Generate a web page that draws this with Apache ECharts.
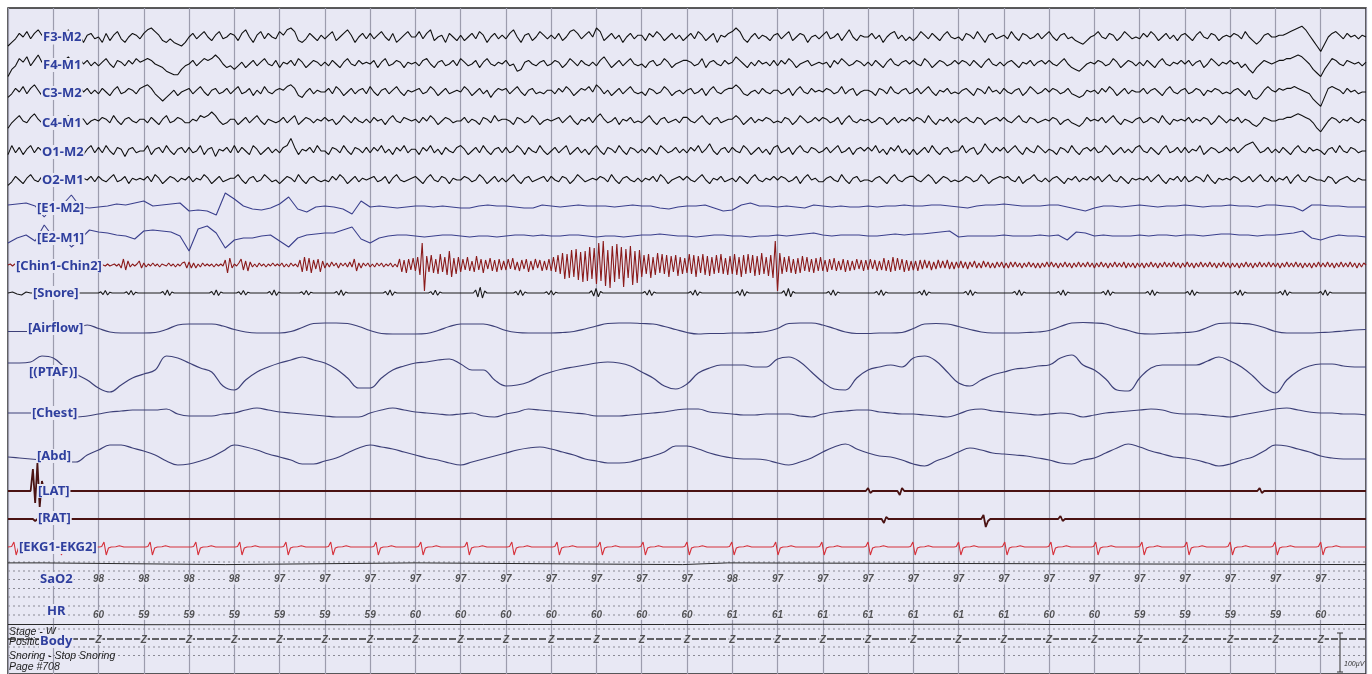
<!DOCTYPE html>
<html><head><meta charset="utf-8">
<script src="https://cdn.jsdelivr.net/npm/echarts@6/dist/echarts.min.js"></script>
<style>html,body{margin:0;padding:0;background:#fff}#c{width:1372px;height:674px}</style>
</head><body><div id="c"></div>
<script>
// ---------------- DATA ----------------
const EPOCH_SECONDS = 30;
const EEG_RATE = 12;      // samples per second
const EOG_RATE = 5;
const EMG_RATE = 20;
const RESP_RATE = 4;

const F3M2 = [
-5,-3,-1,2,0,3,-1,2,4,1,-2,3, 1,-2,2,0,4,-1,2,1,-3,1,2,-1, 0,-3,2,-2,1,3,-1,-3,0,2,1,-1, 2,4,5,3,1,-2,-3,-1,-3,-4,-5,-3,
0,2,-1,1,3,0,-2,1,3,-1,0,2, 1,-2,2,4,0,-3,1,3,-1,2,0,-1, 3,1,4,5,3,-2,-3,-1,2,0,-2,1, -1,1,3,-2,0,2,4,1,-3,0,2,-1,
2,-1,1,3,0,-2,2,-3,-1,1,3,0, 0,3,-1,2,4,-2,0,1,-3,2,0,-2, 1,-2,0,2,-1,3,1,-3,0,2,-1,1, -1,2,4,0,-3,1,2,-2,0,3,1,-1,
1,-1,2,-2,0,3,4,2,-1,1,3,0, 5,3,-2,0,2,-1,1,-3,0,2,-1,1, 1,-2,2,0,3,1,-2,0,2,-1,1,-2, 0,2,-1,3,1,-2,0,2,-3,1,0,2,
3,5,3,-1,-3,0,2,-1,1,0,-2,1, 2,-1,1,3,-2,0,2,1,-3,0,1,-1, 1,3,-1,0,2,-2,1,4,0,-2,1,0, 0,2,-1,1,-3,0,2,3,-1,1,-2,0,
-2,0,3,1,-1,2,0,-2,1,3,0,-1, 0,-2,2,1,-1,3,0,-3,1,2,-1,0, 1,-1,3,0,-2,2,1,-1,0,2,-1,1, 3,0,-2,1,2,-1,0,-2,-3,-4,-2,0,
1,3,0,-1,2,1,-2,0,3,1,-1,0, -1,2,0,3,1,-2,0,2,-1,1,-2,1, 2,0,-2,1,3,0,-1,2,1,-2,0,1, 0,2,1,-1,3,0,-2,-4,-2,1,2,0,
0,1,1,2,3,4,5,6,4,1,-2,-5, -8,-4,0,2,3,1,-1,2,0,1,-1,1, 0];
const F4M1 = [
-7,-3,-1,3,1,4,-1,2,5,1,-1,2, 3,0,-2,2,4,1,-1,3,0,2,-1,1, -1,1,3,0,-2,2,1,-1,2,0,3,1, 2,3,2,0,-1,-2,-4,-5,-6,-6,-3,-1,
0,2,-1,1,3,2,3,5,3,0,-2,-1, -3,-1,1,-2,0,2,-1,1,3,0,-1,2, -2,1,0,2,-1,3,1,-2,0,2,1,-1, 1,-1,2,0,-2,1,3,0,-1,2,0,1,
0,2,-2,1,3,-1,0,2,1,-2,1,0, 1,-1,2,3,0,-2,1,2,-1,0,2,-1, 3,1,-1,0,2,-2,1,3,0,-1,1,0, 2,-1,0,-4,-3,1,2,0,-1,1,2,-1,
0,2,1,-2,0,3,1,-1,2,0,-1,1, -1,2,4,1,-2,0,2,-1,1,3,0,-1, 0,-2,1,2,-1,0,3,1,-2,0,1,2, 2,1,-1,0,3,-2,1,2,0,-1,2,0,
1,4,2,0,-2,1,-1,2,0,1,-1,2, -1,2,0,3,1,-2,0,1,2,-1,0,1, 0,1,-2,2,0,3,1,-1,0,2,1,-1, 1,-1,2,0,-2,1,3,0,-1,1,2,0,
2,0,-1,3,1,-2,0,2,1,-1,0,2, 0,2,1,-1,2,0,-2,1,3,0,-1,1, -1,1,2,0,-2,1,0,2,-1,1,2,0, 2,0,-1,1,3,0,-2,-3,-4,-2,0,1,
0,2,1,-1,0,3,1,-2,0,2,1,-1, 1,-1,2,0,-2,1,3,0,-1,1,0,2, 0,2,-1,1,2,-2,0,3,1,-1,1,0, 2,0,1,-2,0,-3,-5,-2,0,2,1,0,
1,2,2,3,3,4,5,4,2,0,-3,-5, -7,-3,0,3,2,0,-1,2,1,0,1,-1, 1];
const C3M2 = [
-3,-1,2,0,3,-1,2,4,1,-2,1,0, 1,3,-1,2,0,-2,1,3,0,2,-1,1, -1,2,0,-2,1,3,-1,0,2,1,-1,2, 3,4,2,-1,-3,-5,-3,-1,1,-2,0,1,
2,-1,1,3,0,-2,1,2,-1,0,2,-1, 1,3,-1,0,2,-2,1,-1,3,0,-1,1, 2,1,3,4,2,-2,-3,0,2,-1,1,0, 0,2,-1,3,1,-2,0,2,-1,1,2,-1,
3,0,-2,1,2,-1,1,3,0,-2,1,0, 1,2,-1,0,3,1,-2,0,2,-1,0,1, 0,3,1,-2,0,2,-1,1,-3,0,2,1, 2,-1,1,3,0,-2,1,2,-1,0,-1,1,
1,-1,2,0,3,1,-2,0,2,1,3,0, 4,2,-1,1,-2,0,2,-1,1,3,0,-1, 0,-2,2,1,-1,0,3,1,-2,0,1,-1, 1,2,-1,0,2,-2,1,3,0,-1,1,2,
2,4,2,-1,-2,0,1,-1,2,0,-1,1, 1,-1,0,2,-2,1,3,0,-1,2,0,1, 0,2,1,-1,0,3,-1,1,2,-2,0,1, 1,0,-2,2,1,-1,3,0,-1,1,2,-1,
0,2,-1,1,3,0,-2,1,0,2,-1,0, -1,1,2,0,-2,2,1,-1,3,0,1,-1, 2,0,-1,1,2,-2,0,3,1,-1,0,2, 0,2,1,-1,0,2,-1,-2,-3,-2,1,0,
1,-1,2,0,3,1,-2,0,2,-1,1,0, 0,2,-1,1,2,0,-2,1,3,0,-1,1, 2,-1,0,2,1,-2,1,0,2,1,-1,0, -1,1,2,0,-2,1,-3,-4,-2,1,3,1,
0,2,1,2,2,3,2,1,0,-1,-4,-6, -8,-3,2,3,2,1,-1,2,0,1,-1,0, 0];
const C4M1 = [
-4,-1,1,3,0,-1,2,4,1,-1,1,0, 2,0,-2,1,3,-1,0,2,1,-2,0,1, 0,2,1,-1,3,0,-2,1,2,0,-1,1, 1,-1,2,0,-2,1,3,-1,0,2,1,-1,
-1,1,0,3,2,3,5,3,0,-2,-1,1, 1,-2,0,2,-1,1,3,0,-2,1,0,-1, 0,2,-1,1,3,-2,0,2,1,-1,1,0, 2,0,1,-2,0,3,1,-1,2,0,-1,1,
-1,2,0,1,-2,1,3,0,-1,2,1,0, 1,-1,2,0,3,1,-2,0,2,1,-1,0, 0,2,-1,1,0,-2,2,1,-1,3,0,1, 1,0,-2,2,1,-1,0,3,1,-2,0,1,
0,1,2,-1,1,3,0,-2,1,0,2,-1, 2,4,1,-1,0,2,-2,1,0,2,-1,0, -1,1,3,0,-2,1,2,-1,0,1,-1,2, 2,0,-1,1,3,0,-2,1,2,-1,0,1,
1,3,1,-2,0,2,-1,1,0,2,1,-1, 0,-1,2,1,-2,0,3,1,-1,0,2,0, 2,1,-1,0,2,-2,1,3,0,-1,1,0, 1,-1,0,2,1,-2,0,2,-1,1,0,2,
0,2,1,-1,3,0,-2,1,0,2,-1,1, -1,1,2,0,-1,2,1,-2,0,1,2,0, 2,0,-1,1,3,0,-1,2,1,-1,0,1, 0,2,1,-2,0,1,-1,-2,-3,-1,2,0,
1,0,2,-1,1,3,0,-2,1,0,-1,1, 2,-1,0,2,1,-1,3,0,-2,1,0,1, 0,2,-1,1,0,2,1,-2,0,3,1,-1, 1,0,2,-1,1,0,-2,-3,-1,2,1,0,
0,1,1,2,2,3,4,3,2,1,-1,-4, -6,-3,0,2,1,-1,1,0,2,0,-1,1, 0];
const O1M2 = [
-2,3,-1,2,-2,1,3,-1,2,0,-2,1, -3,1,2,-2,3,0,-1,2,-2,1,3,-1, 2,-1,3,0,-2,2,1,-3,1,2,-1,0, 0,3,-2,1,2,-1,3,0,-2,1,2,-1,
2,-1,0,3,-2,1,2,-3,1,0,2,-1, 3,-1,2,0,-2,3,1,-2,0,2,-1,1, -1,2,3,7,2,-2,1,0,2,-1,3,0, 0,-2,2,1,-1,3,0,-2,2,1,-1,2,
-1,2,0,3,-1,1,-2,2,0,3,-1,1, 1,-2,2,0,3,-1,1,-2,2,0,-1,2, 3,1,-2,0,2,-1,3,0,-2,1,2,-1, 2,-1,0,3,1,-2,2,0,-1,3,0,-2,
0,2,-1,1,3,-2,0,2,-1,1,-2,1, 3,0,-2,2,1,-1,3,0,-2,2,1,-1, 1,-1,2,0,-2,3,1,-1,0,2,-1,1, -1,2,0,3,-1,1,4,0,-2,1,2,-1,
2,0,-1,3,1,-2,0,2,-1,1,-2,2, 3,-1,0,2,-2,1,3,0,-1,2,1,-1, 0,2,-1,1,3,-1,0,2,-2,1,2,0, 2,0,3,-1,1,-2,2,0,3,-1,1,-2,
1,-2,0,2,-1,3,0,-2,1,2,-1,0, 0,3,-1,1,2,-2,0,4,1,-1,2,0, 2,-1,1,3,0,-2,2,0,-1,3,1,-1, 1,0,-2,2,1,-1,3,0,-2,1,2,0,
2,-1,0,3,1,-2,0,2,-1,1,-1,2, 3,0,-1,2,0,-2,1,3,-1,0,2,-1, 2,-1,1,0,3,-2,0,2,1,-1,0,2, 0,2,-1,1,3,4,5,2,-1,0,2,-1,
1,-1,2,0,-2,1,3,0,-1,2,0,1, 0,-2,1,2,-1,3,0,-1,2,1,-1,0, 0];
const O2M1 = [
-3,-1,2,0,-2,1,3,0,-1,2,1,-1, 1,-2,0,2,-1,3,0,-2,1,0,2,-1, 2,0,-1,1,3,-1,0,2,-2,1,0,1, 0,2,-1,3,1,-2,0,2,1,-1,1,0,
2,-1,1,0,3,1,-2,0,2,-1,0,1, 1,3,0,-2,1,2,-1,0,3,1,-1,0, -2,0,2,1,-1,3,0,-2,1,2,0,-1, 0,-1,2,0,3,1,-2,0,2,-1,1,0,
1,2,-1,0,2,-2,1,3,0,-1,0,1, 2,0,-2,1,3,0,-1,2,1,-2,1,0, 0,2,1,-1,0,3,1,-2,0,2,-1,1, -1,1,3,0,-2,1,2,-1,0,1,2,-1,
2,0,-1,2,1,-2,0,3,1,-1,0,1, 0,2,1,-1,3,0,-2,1,2,0,-1,1, -1,1,0,2,-1,3,1,-2,0,1,2,0, 2,0,-1,1,3,0,-2,1,0,2,-1,0,
1,-1,2,0,-2,1,3,0,-1,1,0,2, 0,2,1,-1,0,2,-2,1,3,0,1,-1, -1,1,2,0,-1,3,0,-2,1,2,-1,0, 0,-1,1,2,0,-2,1,3,0,-1,1,2,
2,0,-1,1,3,1,-2,0,2,1,-1,0, -1,0,2,1,-1,0,3,1,-2,0,1,2, 1,2,0,-1,2,-2,0,1,3,0,-1,1, -1,1,2,0,-2,1,0,2,-1,1,0,2,
0,2,-1,1,3,0,-1,2,0,-2,1,0, 1,0,2,-1,1,3,0,-2,1,0,2,-1, 2,-1,0,2,1,-1,3,0,-2,1,0,1, 0,2,1,-1,0,2,-1,1,3,0,-1,2,
-1,1,0,2,-2,1,3,0,-1,2,1,0, 0,-1,2,1,-2,0,1,2,0,-1,1,0, 0];

const E1M2 = [
1,2,3,0,-11,0,1,11,-1,-2, -1,0,2,1,3,5,0,1,2,3, -5,-4,-5,-9,13,7,0,-3,-4,-2, 2,9,-3,-6,-1,0,-1,-3,-8,5,
-1,0,-1,-2,-1,0,0,-1,0,-1, -2,-2,0,1,0,0,-1,-2,-2,1, 0,-1,0,1,0,0,0,-1,0,1, 0,0,-2,-3,-1,0,0,1,-2,-5,
-4,1,3,0,0,-1,0,-1,-2,1, 0,-1,0,-1,-1,0,-1,0,0,1, 0,0,1,1,0,-1,-2,0,1,1, 2,1,0,0,0,1,1,-1,-3,-5,
-2,0,0,-1,0,1,0,-1,0,0, 1,0,-1,0,0,1,0,0,-1,1, 1,0,-1,-5,1,1,0,0,-1,-1, -1];
const E2M1 = [
-7,-2,1,-5,11,-1,0,-11,-3,6, 4,3,1,0,-3,5,6,5,4,0, -15,7,10,3,-12,-4,-2,-2,0,1, -5,-11,-2,1,2,3,3,6,9,-3,
-7,-2,0,1,1,0,-1,0,1,1, 0,-1,0,0,-1,0,1,1,0,1, 0,0,1,1,0,-1,0,0,-1,0, 1,1,2,1,0,0,-1,0,1,1,
0,0,-1,0,0,1,0,1,2,3, 1,0,1,1,1,0,0,1,2,1, 2,2,3,4,5,-1,0,0,0,0, 1,0,0,0,1,0,1,-4,4,3,
0,1,0,0,0,1,0,1,1,0, 1,1,0,1,2,2,1,1,0,1, 1,2,3,5,-2,-4,-1,1,0,0, -1];

const CHIN = [
0,1,-1,1,0,-1,1,-1,0,1,-1,0,1,-1,1,0,-1,1,0,-1,
1,-1,0,1,-1,1,0,-1,1,-1,0,1,-1,0,1,-1,1,0,-1,1,
-1,1,0,-1,1,-1,0,1,-1,1,-3,6,-5,4,-2,1,-1,1,4,-3,
2,-2,1,-1,2,-1,1,-2,1,0,-1,2,-1,1,-2,1,-1,2,3,-3,
3,-3,2,-3,1,-2,2,-1,1,-1,1,-2,1,-1,1,-1,5,-8,7,-3,
1,-1,2,6,-5,4,-6,3,-2,1,-2,2,-1,1,-2,1,-1,2,-1,1,
-1,2,-2,1,-2,2,-1,1,-2,5,-7,8,-6,7,-8,5,-4,6,-7,4,
-3,2,-2,3,-1,2,-3,2,-1,2,-2,3,-2,6,-6,2,-3,2,-1,2,
-2,1,-2,2,-1,2,-2,1,-1,2,-2,1,-2,6,-7,5,-8,6,-5,7,
-6,8,-10,22,-26,9,-7,10,-8,6,-9,11,-7,8,-10,14,-12,7,-9,8,
-7,6,-5,8,-6,4,-7,9,-5,6,-8,5,-4,7,-6,5,-7,6,-5,4,
-5,6,-4,7,-5,3,-6,5,-4,6,-7,4,-5,6,-3,5,-6,4,-5,6,
-6,8,-7,10,-9,12,-14,11,-13,15,-12,16,-15,13,-17,14,-16,18,-14,17,
-19,22,-16,24,-21,15,-23,19,-17,21,-14,18,-22,16,-13,19,-20,14,-18,15,
-12,10,-9,11,-13,8,-10,12,-8,11,-9,10,-12,9,-7,10,-11,8,-9,7,
-8,11,-9,10,-12,9,-8,11,-10,9,-11,8,-9,10,-8,11,-9,7,-10,9,
-9,11,-10,8,-12,10,-9,11,-8,10,-11,9,-10,12,-9,8,-11,10,-13,24,
-26,12,-9,8,-7,9,-8,6,-9,7,-8,9,-6,8,-7,6,-8,7,-6,8,
-6,5,-7,6,-5,7,-6,4,-5,6,-7,5,-6,4,-5,6,-4,5,-6,5,
-5,6,-4,5,-6,4,-5,7,-6,5,-7,8,-6,7,-5,6,-7,5,-6,4,
-5,4,-6,5,-4,5,-3,4,-5,3,-4,5,-3,4,-3,5,-4,3,-4,3,
-3,4,-3,3,-4,3,-2,4,-3,2,-3,4,-2,3,-3,2,-3,3,-2,3,
-3,2,-3,3,-2,3,-2,2,-3,2,-2,3,-2,2,-3,2,-3,2,-2,3,
-2,3,-2,2,-3,2,-2,3,-2,2,-3,2,-2,3,-2,2,-2,3,-2,2,
-3,2,-2,3,-2,2,-3,2,-2,3,-2,2,-2,3,-3,2,-2,2,-3,2,
-2,2,-3,2,-2,3,-2,2,-3,2,-2,3,-2,2,-2,3,-2,2,-3,2,
-2,3,-2,2,-3,2,-2,3,-2,2,-2,3,-2,2,-3,2,-2,3,-2,2,
-3,2,-2,2,-3,2,-2,3,-2,2,-3,2,-2,3,-2,2,-2,3,-2,2,
-2,2,-3,2,-2,3,-2,2,-2,3,-2,2,-3,2,-2,2,-3,2,-2,3,
-2,2,-2,3,-2,2,-3,2,-2,3,-2,2,-2,3,-2,2,-3,2,-2,2,
0];

// snore: lead-in wiggle [t, v] and blips (time, size)
const SNORE_LEAD = [[0,0],[0.1,1],[0.2,-1],[0.3,-2],[0.4,1],[0.5,0]];
const SNORE_BLIP_T = [2.1,2.67,3.47,4.55,5.15,5.83,6.54,7.31,8.39,9.39,10.38,11.27,11.95,12.94,14.12,15.13,16.17,17.19,18.18,19.24,20.19,21.21,22.29,23.26,24.25,25.23,26.11,27.17,28.16,29.05];
const SNORE_BLIP_A = [0.8,0.8,1,1,0.8,1,0.8,1,1,0.9,2,1,0.8,1.5,1,1,1.2,1.5,1,1,1,1,1,1,1,1,1,1,1,1];
const SNORE_WAVE_T = [-0.1,-0.05,0,0.05,0.1,0.15,0.2];
const SNORE_WAVE_V = [0,1.5,-2,3,-2.5,1,0];

const AIRFLOW = [
-3,-3,-3,-3, -2.5,-2,-1,3.5, 0,-3.5,-4.5,-4.5, -4.5,-4,-1,3.5, 4.5,4.5,4.5,2.5, -1,-3.5,-4.5,-4.5,
-4.5,-3,1,5, 5.5,5.5,5,2, -2,-5,-5.5,-5.5, -5.5,-5,-2,2, 4.5,4.5,4.5,2, -2,-4,-4.5,-4.5,
-4.5,-4,-3,-0.5, 2.5,5,5.5,5.5, 5,4.5,2,-1, -4,-5.5,-5,-5, -4.5,-4.5,-4,-3, 0,5,5.5,5.5,
3.5,0,-3.5,-5, -5,-4.5,-4.5,-4, 0,4.5,5,4.5, 2,-1,-3.5,-4.5, -4.5,-4.5,-4,-3.5, -2,2,5.5,6,
5.5,4.5,1,-2, -5,-5.5,-5,-4.5, -4,-3,1,5, 5.5,5,4,1, -3,-4.5,-4.5,-4.5, -4,-3.5,-2.5,-1.5, -1];
const PTAF = [
9,9,10,16, 14,5,-2,-8, -16,-20,-13,-6, -2,2,16,14, 9,4,0,-14, -18,-8,0,5,
9,12,15,12, 9,3,-6,-16, -16,-6,2,6, 9,10,12,13, 8,2,2,-8, -14,-13,-10,-4,
0,3,5,7, 9,10,9,6, 0,-6,-14,-17, -12,-1,4,7, 7,7,5,5, 13,15,10,0,
-10,-17,-18,-6, 2,5,7,5, 14,16,11,0, -11,-14,-8,-3, 0,3,4,6, 7,14,17,7,
2,-7,-18,-19, -6,4,7,7, 7,7,11,15, 11,5,-4,-15, -21,-8,1,6, 8,8,6,5, 5];
const CHEST = [
-1,-1,-1,-1, -2,-3,-5,-4, -2,0,1,2, 2,2,3,-2, -4,-4,-4,-2, -1,2,4,2,
0,-1,-2,-3, -4,-5,-5,-5, -1,2,4,2, 0,-1,-2,-3, -2,-1,-4,-5, -2,0,3,2,
1,0,-1,-2, -4,-4,-4,-3, -2,-1,0,2, 3,3,0,-1, -2,-3,-3,-2, -2,-2,-4,-5,
-2,0,1,2, 2,0,-1,-2, -2,-3,-4,-5, -2,2,3,1, 0,-1,-2,-3, -2,-1,-2,-5,
-3,-1,0,1, 2,3,2,-1, -2,-2,-3,-4, -5,-3,-1,1, 3,4,2,0, -1,-1,-2,-2, -3];
const ABD = [
-2,-3,-4,-5, -6,-7,-7,0, 5,10,10,7, 4,0,-6,-10, -9,-6,-2,4, 10,8,5,1,
-2,-5,-9,-9, -6,-3,2,7, 10,8,6,3, 0,-3,-5,-8, -10,-7,-4,-1, 2,5,7,8,
6,3,0,-4, -6,-8,-8,-7, -4,-1,3,9, 9,6,2,-1, -3,-4,-4,-5, -8,-10,-7,-3,
3,8,11,6, 2,-1,-2,-5, -9,-11,-6,-2, 3,7,5,2, 1,0,-1,-3, -5,-8,-9,-5,
-3,2,7,11, 8,4,1,-2, -3,-5,-8,-11, -9,-5,-2,4, 10,9,6,3, -1,-3,-4,-4, -4];

const LAT = [[0,0],[0.5,0],[0.55,22],[0.6,-12],[0.65,28],[0.7,-16],[0.75,10],[0.8,0],
 [18.95,0],[19.0,3],[19.05,-2],[19.1,0],[19.65,0],[19.7,-4],[19.75,3],[19.8,0],
 [27.6,0],[27.65,3],[27.7,-2],[27.75,0],[30,0]];
const RAT = [[0,0],[0.55,0],[0.6,-2],[0.65,0],[19.3,0],[19.35,-4],[19.4,2],[19.45,0],
 [21.5,0],[21.55,4],[21.6,-8],[21.65,-2],[21.7,0],[23.2,0],[23.25,3],[23.3,-2],[23.35,0],[30,0]];

const EKG_BEATS = [0.13,1.13,2.12,3.14,4.15,5.12,6.14,7.13,8.13,9.12,10.14,11.13,12.13,13.08,14.03,15.0,15.99,16.96,17.98,19.0,19.99,21.0,22.02,23.04,24.03,25.05,26.04,27.0,27.99,29.0];
const EKG_WAVE_T = [-0.1,-0.05,0,0.05,0.1,0.16,0.26,0.34,0.44];
const EKG_WAVE_V = [0,0.5,5,-8,-1,0,0.3,1.2,0];

const SAO2_TRACE = [[0,98],[0.77,97],[4.8,98],[9.0,97],[14.9,98],[15.9,97],[30,97]];
const LABEL_SECONDS = [2,3,4,5,6,7,8,9,10,11,12,13,14,15,16,17,18,19,20,21,22,23,24,25,26,27,28,29];
const SAO2_VALUES = [98,98,98,98,97,97,97,97,97,97,97,97,97,97,98,97,97,97,97,97,97,97,97,97,97,97,97,97];
const HR_VALUES = [60,59,59,59,59,59,59,60,60,60,60,60,60,60,61,61,61,61,61,61,61,60,60,59,59,59,59,60];
const BODY_VALUES = ['Z','Z','Z','Z','Z','Z','Z','Z','Z','Z','Z','Z','Z','Z','Z','Z','Z','Z','Z','Z','Z','Z','Z','Z','Z','Z','Z','Z'];

const CHANNEL_NAMES = ['F3-M2','F4-M1','C3-M2','C4-M1','O1-M2','O2-M1','[E1-M2]','[E2-M1]','[Chin1-Chin2]','[Snore]','[Airflow]','[(PTAF)]','[Chest]','[Abd]','[LAT]','[RAT]','[EKG1-EKG2]','SaO2','HR','Body'];
const FOOTER_TEXTS = ['Stage - W','Position','Snoring - Stop Snoring','Page #708'];

// ---------------- LAYOUT / STYLE ----------------
const BG = '#e8e8f4';
const TOP = 8;
const LABEL_X = [42,42,41,41,41,41,36,36,15,32,27,28,31,36,37,37,18,39,46,39];
const LABEL_Y = [37.5,65,93,123,152,180,208,238,266,293,328,372,413,456,491,518,547,579,611,641];
const BASE = {F3:37,F4:64,C3:92,C4:121,O1:151,O2:180,E1:206,E2:236,CHIN:265,SNORE:293,AIR:328.5,PTAF:372,CHEST:412,ABD:455,LAT:491,RAT:519,EKG:547,SAO2:564.6,HR:624.5,BODY:639};
const DOTTED_ROWS = [562,571,579.5,588.5,597,606,615,629,647,655.5];
const FOOTER_Y = [632,642,656,667];
const EEG_GAIN = 1.8;

const yv = px => px - TOP;
const uni = (arr, rate, base, gain) => arr.map((v,i)=>[i/rate, yv(base) - v*gain]);
const prs = (arr, base, gain) => arr.map(p=>[p[0], yv(base) - p[1]*gain]);
function waveTrain(times, amps, wt, wv){
  const pts = [];
  times.forEach((b,i)=>{ const a = amps ? amps[i] : 1; wt.forEach((dt,k)=>pts.push([b+dt, wv[k]*a])); });
  return pts;
}
function line(data, color, width, extra){
  return Object.assign({type:'line', data, symbol:'none', showSymbol:false, silent:true, animation:false,
    lineStyle:{color, width}, z:2}, extra||{});
}
const EEG_C = '#101010', EOG_C = '#3a3f8c', EMG_C = '#8a1a1a', RESP_C = '#3d4078';

const snorePts = SNORE_LEAD.concat(waveTrain(SNORE_BLIP_T, SNORE_BLIP_A, SNORE_WAVE_T, SNORE_WAVE_V)).concat([[30,0]]);
const ekgPts = [[0,0]].concat(waveTrain(EKG_BEATS, null, EKG_WAVE_T, EKG_WAVE_V)).concat([[30,0]]);
const hrPts = [[0,HR_VALUES[0]]].concat(LABEL_SECONDS.map((s,i)=>[s,HR_VALUES[i]])).concat([[EPOCH_SECONDS,HR_VALUES[HR_VALUES.length-1]]]);

const series = [
  line(uni(F3M2,EEG_RATE,BASE.F3,EEG_GAIN),EEG_C,1.1),
  line(uni(F4M1,EEG_RATE,BASE.F4,EEG_GAIN),EEG_C,1.1),
  line(uni(C3M2,EEG_RATE,BASE.C3,EEG_GAIN),EEG_C,1.1),
  line(uni(C4M1,EEG_RATE,BASE.C4,EEG_GAIN),EEG_C,1.1),
  line(uni(O1M2,EEG_RATE,BASE.O1,EEG_GAIN),EEG_C,1.1),
  line(uni(O2M1,EEG_RATE,BASE.O2,EEG_GAIN),EEG_C,1.1),
  line(uni(E1M2,EOG_RATE,BASE.E1,1),EOG_C,1.1),
  line(uni(E2M1,EOG_RATE,BASE.E2,1),EOG_C,1.1),
  line(uni(CHIN,EMG_RATE,BASE.CHIN,1),EMG_C,1.1),
  line(prs(snorePts,BASE.SNORE,1),'#1a1a1a',1.1),
  line(uni(AIRFLOW,RESP_RATE,BASE.AIR,1),RESP_C,1.2,{smooth:0.4}),
  line(uni(PTAF,RESP_RATE,BASE.PTAF,1),RESP_C,1.2,{smooth:0.4}),
  line(uni(CHEST,RESP_RATE,BASE.CHEST,1),RESP_C,1.2,{smooth:0.4}),
  line(uni(ABD,RESP_RATE,BASE.ABD,1),RESP_C,1.2,{smooth:0.4}),
  line(prs(LAT,BASE.LAT,1),'#4a1212',1.8),
  line(prs(RAT,BASE.RAT,1),'#4a1212',1.8),
  line(prs(ekgPts,BASE.EKG,1),'#d6303a',1.1),
  line(SAO2_TRACE.map(p=>[p[0], yv(BASE.SAO2) - (p[1]-97)*1.7]),'#2a2a2a',1,{step:'end'}),
  line(hrPts.map(p=>[p[0], yv(BASE.HR) - (p[1]-60)*0.2]),'#2a2a2a',1,{step:'middle'}),
  line([[0,yv(BASE.BODY)],[EPOCH_SECONDS,yv(BASE.BODY)]],'#3a3a3a',1.4,{lineStyle:{color:'#333',width:1.5,type:[7,2]}})
];
DOTTED_ROWS.forEach(r=>series.push(line([[0,yv(r)],[EPOCH_SECONDS,yv(r)]],'#8a8a94',1,{lineStyle:{color:'#8a8a94',width:1,type:[2,3]},z:1})));

function valueLabels(vals, ypx){
  return {type:'scatter', symbolSize:0, silent:true, animation:false, z:20,
    data: vals.map((v,i)=>[LABEL_SECONDS[i], yv(ypx), v]),
    label:{show:true, position:'inside', formatter:p=>String(p.data[2]), fontSize:10, fontStyle:'italic', fontWeight:'bold',
      fontFamily:'"Liberation Sans", Arial', color:'#2a2a2a', backgroundColor:BG, padding:[0,1]}};
}
series.push(valueLabels(SAO2_VALUES,579.5));
series.push(valueLabels(HR_VALUES,615));
series.push(valueLabels(BODY_VALUES,640));

const graphic = [];
FOOTER_TEXTS.forEach((t,i)=>graphic.push({type:'text', x:9, y:FOOTER_Y[i], z:50, silent:true,
  style:{text:t, font:'italic 10.5px "Liberation Sans", Arial', fill:'#1e1e1e', verticalAlign:'middle', align:'left'}}));
CHANNEL_NAMES.forEach((t,i)=>graphic.push({type:'text', x:LABEL_X[i], y:LABEL_Y[i], z:100, silent:true,
  style:{text:t, font:'bold 13px "Noto Sans", sans-serif', fill:'#2f3f9e', verticalAlign:'middle', align:'left',
    backgroundColor:BG, padding:[1,1,0,1]}}));
// calibration bar
graphic.push({type:'line', z:60, silent:true, shape:{x1:1340,y1:633,x2:1340,y2:672}, style:{stroke:'#333',lineWidth:1}});
graphic.push({type:'line', z:60, silent:true, shape:{x1:1337,y1:633,x2:1343,y2:633}, style:{stroke:'#333',lineWidth:1}});
graphic.push({type:'line', z:60, silent:true, shape:{x1:1337,y1:672,x2:1343,y2:672}, style:{stroke:'#333',lineWidth:1}});
graphic.push({type:'text', x:1344, y:664, z:60, silent:true, style:{text:'100µV', font:'italic 7px "Liberation Sans", Arial', fill:'#333', verticalAlign:'middle'}});

const chart = echarts.init(document.getElementById('c'), null, {renderer:'canvas'});
chart.setOption({
  animation:false,
  backgroundColor:'#ffffff',
  grid:{left:8, top:TOP, right:6, bottom:0, show:true, backgroundColor:BG, borderColor:'#262626', borderWidth:1.5},
  xAxis:{type:'value', min:0, max:EPOCH_SECONDS, interval:1, axisLabel:{show:false}, axisTick:{show:false}, axisLine:{show:false},
    splitLine:{show:true, lineStyle:{color:'#9c9cad', width:1.2}}},
  yAxis:{type:'value', min:0, max:666, inverse:true, show:false, splitLine:{show:false}},
  series, graphic
});
</script></body></html>
